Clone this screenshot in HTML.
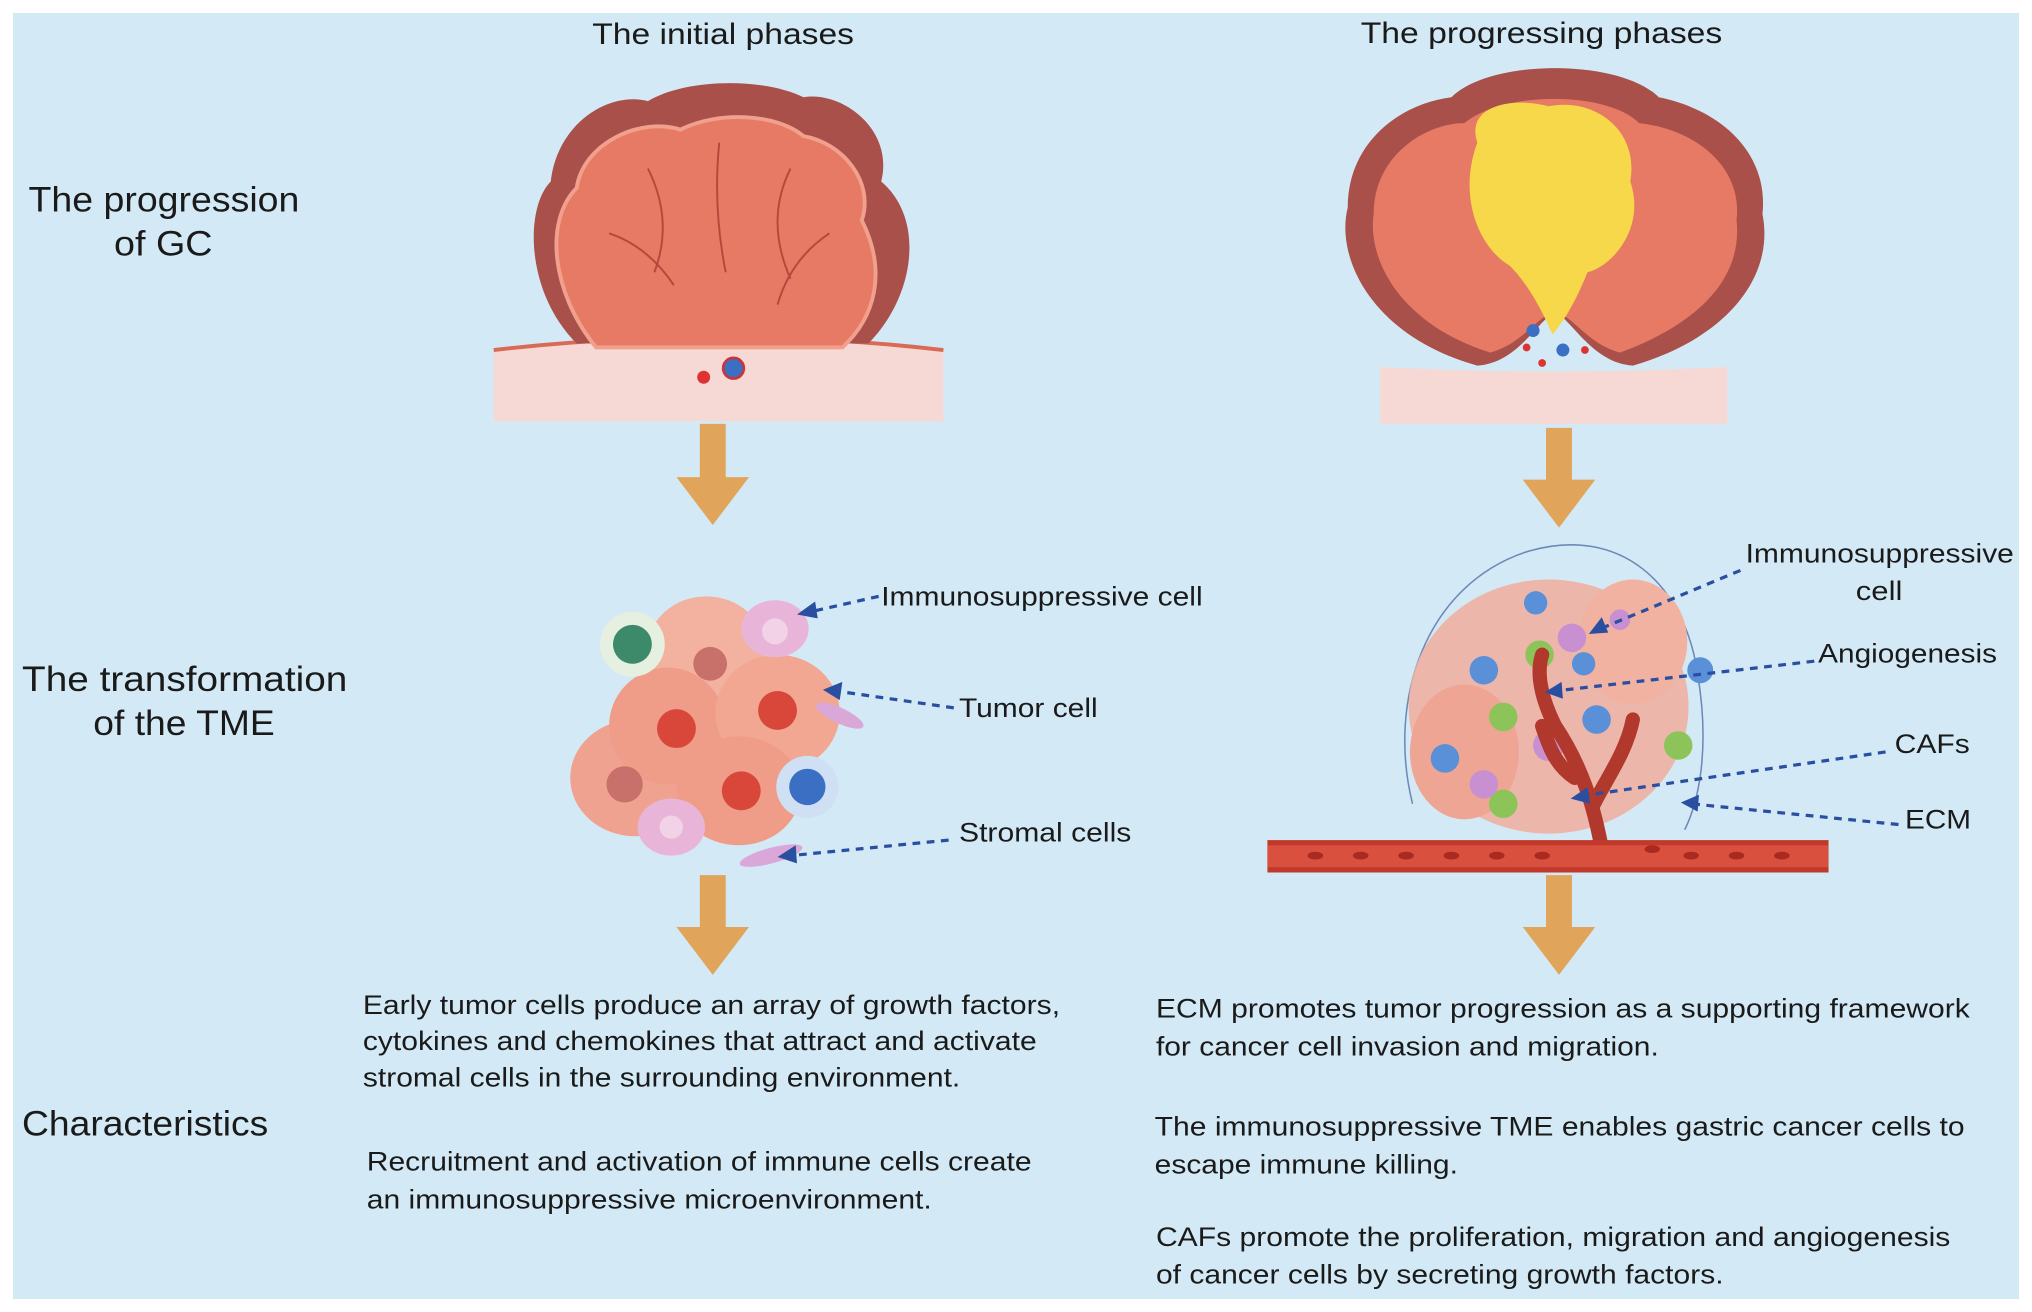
<!DOCTYPE html>
<html><head><meta charset="utf-8"><style>
html,body{margin:0;padding:0;background:#fff;width:2032px;height:1312px;overflow:hidden}
svg{display:block}
text{font-family:"Liberation Sans",sans-serif;fill:#1a1a1a}
</style></head><body>
<svg width="2032" height="1312" viewBox="0 0 1568 1012" preserveAspectRatio="none">
<rect x="0" y="0" width="1568" height="1012" fill="#fff"/>
<rect x="10" y="10" width="1548" height="992" fill="#d3eaf6"/>

<g lengthAdjust="spacingAndGlyphs">
<text x="457" y="34" font-size="23" textLength="202" lengthAdjust="spacingAndGlyphs">The initial phases</text>
<text x="1050" y="33" font-size="23" textLength="279" lengthAdjust="spacingAndGlyphs">The progressing phases</text>

<text x="22" y="163" font-size="27" textLength="209" lengthAdjust="spacingAndGlyphs">The progression</text>
<text x="88" y="197" font-size="27" textLength="76" lengthAdjust="spacingAndGlyphs">of GC</text>
<text x="17" y="533" font-size="27" textLength="251" lengthAdjust="spacingAndGlyphs">The  transformation</text>
<text x="72" y="567" font-size="27" textLength="140" lengthAdjust="spacingAndGlyphs">of the TME</text>
<text x="17" y="876" font-size="27" textLength="190" lengthAdjust="spacingAndGlyphs">Characteristics</text>
</g>

<!-- left tumor -->
<path d="M381,270 Q555,250 728,270 L728,325 L381,325 Z" fill="#f6d9d4"/>
<path d="M381,270 Q555,250 728,270" stroke="#d96a55" stroke-width="3" fill="none"/>
<path d="M445,265 C405,225 405,160 425,140 C430,95 470,70 500,78 C530,60 590,60 620,75 C650,70 690,100 680,140 C715,170 705,230 670,265 Z" fill="#a9504a"/>
<path d="M460,268 C425,225 420,170 445,145 C450,110 495,90 525,100 C555,85 600,88 620,105 C650,110 675,140 665,170 C685,210 675,245 650,268 Z" fill="#e77a64" stroke="#f0a08c" stroke-width="3"/>
<g stroke="#b8463a" stroke-width="1.5" fill="none">
<path d="M500,130 Q520,170 505,210"/><path d="M555,110 Q550,160 560,210"/><path d="M610,130 Q590,170 610,215"/><path d="M470,180 Q500,190 520,220"/><path d="M640,180 Q610,200 600,235"/>
</g>
<circle cx="543" cy="291" r="5" fill="#d33"/><circle cx="566" cy="284" r="8" fill="#3a6fc4" stroke="#c33" stroke-width="2"/>

<!-- right tumor -->
<path d="M1065,283 Q1200,290 1333,283 L1333,327 L1065,327 Z" fill="#f6d9d4"/>
<path d="M1140,282 C1060,260 1030,200 1040,160 C1040,110 1080,80 1120,75 C1150,45 1250,45 1280,75 C1330,85 1365,120 1360,165 C1370,215 1330,262 1260,282 C1230,280 1215,250 1200,240 C1185,250 1170,280 1140,282 Z" fill="#a9504a"/>
<path d="M1150,272 C1080,250 1055,200 1060,165 C1060,120 1100,95 1130,95 C1160,70 1240,70 1265,95 C1310,100 1345,130 1340,170 C1345,215 1310,250 1250,272 C1225,265 1215,245 1200,240 C1185,245 1175,265 1150,272 Z" fill="#e77a64"/>
<path d="M1140,110 C1130,80 1170,75 1195,82 C1230,75 1265,100 1258,140 C1270,175 1245,205 1225,210 C1215,235 1205,250 1198,258 C1190,240 1180,220 1165,205 C1140,190 1125,150 1140,110 Z" fill="#f7d84a"/>
<circle cx="1183" cy="255" r="5" fill="#3a6fc4"/><circle cx="1206" cy="270" r="5" fill="#3a6fc4"/><circle cx="1178" cy="268" r="3" fill="#d33"/><circle cx="1190" cy="280" r="3" fill="#d33"/><circle cx="1223" cy="270" r="3" fill="#d33"/>

<!-- arrows -->
<g fill="#e0a55a">
<path d="M540,327 h20 v41 h18 l-28,37 l-28,-37 h18 z"/>
<path d="M540,675 h20 v40 h18 l-28,37 l-28,-37 h18 z"/>
<path d="M1193,330 h20 v40 h18 l-28,37 l-28,-37 h18 z"/>
<path d="M1193,675 h20 v40 h18 l-28,37 l-28,-37 h18 z"/>
</g>

<!-- left cell cluster -->
<g>
<ellipse cx="490" cy="600" rx="50" ry="45" fill="#f0a290"/>
<ellipse cx="545" cy="500" rx="45" ry="40" fill="#f3b19f"/>
<ellipse cx="515" cy="560" rx="45" ry="45" fill="#ef9c88"/>
<ellipse cx="600" cy="550" rx="48" ry="45" fill="#f2a793"/>
<ellipse cx="570" cy="610" rx="48" ry="42" fill="#ef9c88"/>
<circle cx="522" cy="562" r="15" fill="#d9473a"/><circle cx="600" cy="548" r="15" fill="#d9473a"/><circle cx="572" cy="610" r="15" fill="#d9473a"/><circle cx="482" cy="605" r="14" fill="#c8706a"/><circle cx="548" cy="512" r="13" fill="#c8706a"/>
<circle cx="488" cy="497" r="25" fill="#e6f0e0"/><circle cx="488" cy="497" r="15" fill="#3c8a6a"/>
<circle cx="623" cy="607" r="24" fill="#cfe0f4"/><circle cx="623" cy="607" r="14" fill="#3a6fc4"/>
<ellipse cx="598" cy="485" rx="26" ry="22" fill="#e8b5d8"/><circle cx="598" cy="487" r="10" fill="#f2d2e6"/>
<ellipse cx="518" cy="638" rx="26" ry="22" fill="#e8b5d8"/><circle cx="518" cy="638" r="9" fill="#f2d2e6"/>
<ellipse cx="595" cy="660" rx="25" ry="6" fill="#d9a8d8" transform="rotate(-15 595 660)"/>
<ellipse cx="648" cy="552" rx="20" ry="6" fill="#d9a8d8" transform="rotate(25 648 552)"/>
</g>

<!-- right cluster -->
<path d="M1090,620 C1070,540 1100,450 1180,425 C1250,405 1300,450 1310,520 C1320,580 1310,620 1300,640" fill="none" stroke="#6e89b8" stroke-width="1.2"/>
<ellipse cx="1195" cy="545" rx="108" ry="98" fill="#f0b0a2" opacity="0.9"/>
<ellipse cx="1130" cy="580" rx="42" ry="52" fill="#efa593"/>
<ellipse cx="1260" cy="495" rx="42" ry="48" fill="#f2b2a2"/>
<g fill="#5a90d8"><circle cx="1145" cy="517" r="11"/><circle cx="1115" cy="585" r="11"/><circle cx="1232" cy="555" r="11"/><circle cx="1222" cy="512" r="9"/><circle cx="1185" cy="465" r="9"/><circle cx="1312" cy="517" r="10"/></g>
<g fill="#8cc45a"><circle cx="1188" cy="505" r="11"/><circle cx="1160" cy="553" r="11"/><circle cx="1295" cy="575" r="11"/><circle cx="1160" cy="620" r="11"/></g>
<g fill="#c890d0"><circle cx="1213" cy="492" r="11"/><circle cx="1195" cy="575" r="12"/><circle cx="1145" cy="605" r="11"/><circle cx="1250" cy="478" r="8"/></g>
<path d="M1237,660 C1230,620 1220,590 1200,560 C1190,540 1185,520 1190,505 M1230,620 C1240,600 1255,580 1260,555 M1215,600 C1200,590 1195,575 1190,560" stroke="#b0382c" stroke-width="11" fill="none" stroke-linecap="round"/>
<rect x="978" y="648" width="433" height="25" fill="#c0392b"/>
<rect x="978" y="652" width="433" height="17" fill="#d9503f"/>
<g fill="#a82a20"><ellipse cx="1015" cy="660" rx="6" ry="3"/><ellipse cx="1050" cy="660" rx="6" ry="3"/><ellipse cx="1085" cy="660" rx="6" ry="3"/><ellipse cx="1120" cy="660" rx="6" ry="3"/><ellipse cx="1155" cy="660" rx="6" ry="3"/><ellipse cx="1190" cy="660" rx="6" ry="3"/><ellipse cx="1275" cy="655" rx="6" ry="3"/><ellipse cx="1305" cy="660" rx="6" ry="3"/><ellipse cx="1340" cy="660" rx="6" ry="3"/><ellipse cx="1375" cy="660" rx="6" ry="3"/></g>

<g stroke="#2b4fa0" stroke-width="2.5" stroke-dasharray="6,5" fill="none">
<line x1="678" y1="460" x2="625" y2="472"/><line x1="736" y1="546" x2="645" y2="533"/><line x1="732" y1="648" x2="610" y2="660"/>
<line x1="1343" y1="440" x2="1235" y2="485"/><line x1="1400" y1="510" x2="1200" y2="533"/><line x1="1455" y1="580" x2="1220" y2="614"/><line x1="1465" y1="636" x2="1305" y2="620"/>
</g>
<g fill="#2b4fa0">
<path d="M615,474 l14,-10 l2,13 z"/><path d="M635,532 l15,-6 l-2,14 z"/><path d="M600,661 l14,-9 l1,14 z"/>
<path d="M1226,489 l10,-13 l5,12 z"/><path d="M1192,534 l13,-8 l1,13 z"/><path d="M1212,616 l13,-9 l2,13 z"/><path d="M1297,619 l14,-6 l-1,13 z"/>
</g>

<g font-size="21">
<text x="680" y="467" textLength="248" lengthAdjust="spacingAndGlyphs">Immunosuppressive cell</text>
<text x="740" y="553" textLength="107" lengthAdjust="spacingAndGlyphs">Tumor cell</text>
<text x="740" y="649" textLength="133" lengthAdjust="spacingAndGlyphs">Stromal cells</text>
<text x="1347" y="434" textLength="207" lengthAdjust="spacingAndGlyphs">Immunosuppressive</text>
<text x="1432" y="463" textLength="36" lengthAdjust="spacingAndGlyphs">cell</text>
<text x="1403" y="511" textLength="138" lengthAdjust="spacingAndGlyphs">Angiogenesis</text>
<text x="1462" y="581" textLength="58" lengthAdjust="spacingAndGlyphs">CAFs</text>
<text x="1470" y="639" textLength="51" lengthAdjust="spacingAndGlyphs">ECM</text>

<text x="280" y="782" textLength="538" lengthAdjust="spacingAndGlyphs">Early tumor cells produce an array of growth factors,</text>
<text x="280" y="810" textLength="520" lengthAdjust="spacingAndGlyphs">cytokines and chemokines that attract and activate</text>
<text x="280" y="838" textLength="461" lengthAdjust="spacingAndGlyphs">stromal cells in the surrounding environment.</text>
<text x="283" y="903" textLength="513" lengthAdjust="spacingAndGlyphs">Recruitment and activation of immune cells create</text>
<text x="283" y="932" textLength="436" lengthAdjust="spacingAndGlyphs">an immunosuppressive microenvironment.</text>
<text x="892" y="785" textLength="628" lengthAdjust="spacingAndGlyphs">ECM promotes tumor progression as a supporting framework</text>
<text x="892" y="814" textLength="388" lengthAdjust="spacingAndGlyphs">for cancer cell invasion and migration.</text>
<text x="891" y="876" textLength="625" lengthAdjust="spacingAndGlyphs">The immunosuppressive TME enables gastric cancer cells to</text>
<text x="891" y="905" textLength="234" lengthAdjust="spacingAndGlyphs">escape immune killing.</text>
<text x="892" y="961" textLength="613" lengthAdjust="spacingAndGlyphs">CAFs promote the proliferation, migration and angiogenesis</text>
<text x="892" y="990" textLength="438" lengthAdjust="spacingAndGlyphs">of cancer cells by secreting growth factors.</text>
</g>
</svg>
</body></html>
